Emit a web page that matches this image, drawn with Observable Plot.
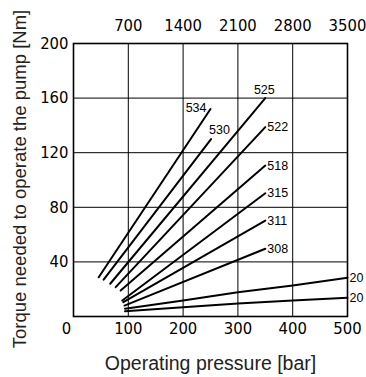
<!DOCTYPE html>
<html>
<head>
<meta charset="utf-8">
<script src="https://cdn.jsdelivr.net/npm/d3@7"></script>
<script src="https://cdn.jsdelivr.net/npm/@observablehq/plot@0.6"></script>
<style>
  html, body { margin: 0; padding: 0; background: #fff; }
  #chart { width: 366px; height: 377px; }
</style>
</head>
<body>
<div id="chart"></div>
<script>
// Tick values
const barTicks = [100, 200, 300, 400, 500];
const psiLabels = ["700", "1400", "2100", "2800", "3500"];
const nmTicks = [40, 80, 120, 160, 200];

// Curves: [pressure bar, torque Nm]
const pump534 = [[46, 28.8], [250, 152]];
const pump530 = [[55, 27], [251, 130]];
const pump525 = [[67, 24], [350, 160]];
const pump522 = [[77, 21.5], [350, 138.7]];
const pump518 = [[86, 19], [350, 110.6]];
const pump315 = [[89, 11.7], [350, 90.3]];
const pump311 = [[91, 10.5], [350, 70.3]];
const pump308 = [[93, 8], [350, 49.6]];
const pump20a = [[94, 5.7], [200, 11.7], [300, 17.8], [400, 22.7], [500, 28.4]];
const pump20b = [[94, 3.9], [200, 6.8], [300, 9.6], [400, 11.8], [500, 13.7]];

const seriesNames = ["534", "530", "525", "522", "518", "315", "311", "308", "20", "20"];
const seriesPoints = [pump534, pump530, pump525, pump522, pump518, pump315, pump311, pump308, pump20a, pump20b];

const rows = [];
seriesPoints.forEach((pts, i) => pts.forEach(([bar, nm]) => rows.push({id: i, name: seriesNames[i], bar, nm})));
const ends = seriesPoints.map((pts, i) => ({id: i, name: seriesNames[i], bar: pts[pts.length - 1][0], nm: pts[pts.length - 1][1]}));

const tickFont = "'DejaVu Sans Condensed', sans-serif";
const labelFont = "'Liberation Sans', Arial, sans-serif";
const tickSize = 16.5;

const chart = Plot.plot({
  width: 366,
  height: 377,
  marginLeft: 73,
  marginRight: 19,
  marginTop: 43,
  marginBottom: 61,
  style: {fontFamily: labelFont, background: "#fff", color: "#000"},
  x: {domain: [0, 500]},
  y: {domain: [0, 200]},
  marks: [
    Plot.gridX([100, 200, 300, 400], {stroke: "#000", strokeOpacity: 1, strokeWidth: 1}),
    Plot.gridY([40, 80, 120, 160], {stroke: "#000", strokeOpacity: 1, strokeWidth: 1}),
    Plot.frame({stroke: "#000", strokeWidth: 1.6}),
    Plot.axisX(barTicks, {anchor: "bottom", tickSize: 0, tickPadding: 6, fontSize: tickSize, fontFamily: tickFont, label: null}),
    Plot.axisX(barTicks, {anchor: "top", tickSize: 0, tickPadding: 13, fontSize: tickSize, fontFamily: tickFont, label: null,
      tickFormat: (d) => psiLabels[barTicks.indexOf(d)]}),
    Plot.axisY(nmTicks, {anchor: "left", tickSize: 0, tickPadding: 5, fontSize: tickSize, fontFamily: tickFont, label: null}),
    Plot.text([0], {x: 0, y: 0, text: () => "0", dx: -7, dy: 12, fontSize: tickSize, fontFamily: tickFont, textAnchor: "middle"}),
    Plot.line(rows, {x: "bar", y: "nm", z: "id", stroke: "#000", strokeWidth: 2}),
    // labels
    Plot.text(ends.filter(d => d.id === 0), {x: "bar", y: "nm", text: "name", textAnchor: "end", dx: -4, dy: -1, fontSize: 12.5}),
    Plot.text(ends.filter(d => d.id === 1), {x: "bar", y: "nm", text: "name", textAnchor: "start", dx: -2, dy: -9, fontSize: 12.5}),
    Plot.text(ends.filter(d => d.id === 2), {x: "bar", y: "nm", text: "name", textAnchor: "middle", dx: -1, dy: -8, fontSize: 12.5}),
    Plot.text(ends.filter(d => d.id >= 3), {x: "bar", y: "nm", text: "name", textAnchor: "start", dx: 2, fontSize: 12.5}),
    Plot.text(["Operating pressure [bar]"], {frameAnchor: "bottom", text: d => d, dy: 53, fontSize: 19.5, fontFamily: labelFont, fill: "#222"}),
    Plot.text(["Torque needed to operate the pump [Nm]"], {frameAnchor: "left", textAnchor: "middle", text: d => d, rotate: -90, dx: -53, dy: -1, fontSize: 18.5, fontFamily: labelFont, fill: "#222"})
  ]
});
document.getElementById("chart").appendChild(chart);
</script>
</body>
</html>
